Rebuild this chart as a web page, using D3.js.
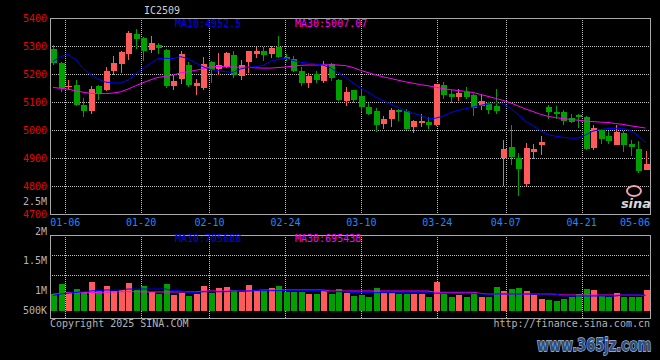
<!DOCTYPE html>
<html><head><meta charset="utf-8">
<script src="https://cdn.jsdelivr.net/npm/d3@7/dist/d3.min.js"></script>
<style>html,body{margin:0;padding:0;background:#000;}svg{display:block;}</style>
</head><body>
<svg id="chart" width="660" height="360"></svg>
<script>
// ---------------- data ----------------
const dates = ["12-31",
 "01-02","01-03","01-06","01-07","01-08","01-09","01-10","01-13","01-14","01-15","01-16","01-17","01-20","01-21","01-22","01-23","01-24","01-27",
 "02-05","02-06","02-07","02-10","02-11","02-12","02-13","02-14","02-17","02-18","02-19","02-20","02-21","02-24","02-25","02-26","02-27","02-28",
 "03-03","03-04","03-05","03-06","03-07","03-10","03-11","03-12","03-13","03-14","03-17","03-18","03-19","03-20","03-21","03-24","03-25","03-26","03-27","03-28","03-31",
 "04-01","04-02","04-03","04-07","04-08","04-09","04-10","04-11","04-14","04-15","04-16","04-17","04-18","04-21","04-22","04-23","04-24","04-25","04-28","04-29","04-30",
 "05-06"];
const opens = [5290,5240,5153,5162,5090,5069,5158,5142,5212,5235,
 5273,5343,5330,5286,5305,5286,5158,5183,5233,5156,
 5150,5243,5219,5224,5269,5192,5242,5271,5283,5271,
 5298,5262,5252,5212,5169,5200,5175,5236,5179,5105,
 5143,5121,5083,5068,5021,5039,5071,5068,5010,5025,
 5027,5019,5162,5130,5119,5137,5126,5087,5096,5085,
 4900,4940,4900,4808,4923,4945,5081,5063,5063,5042,
 5052,5048,4935,5000,4980,4948,4989,4951,4933,4858];
const closes = [5238,5150,5156,5088,5067,5148,5130,5212,5240,5279,
 5348,5326,5283,5310,5293,5158,5176,5271,5162,5169,
 5236,5214,5231,5276,5198,5233,5281,5283,5269,5293,
 5262,5252,5212,5167,5193,5179,5232,5185,5107,5137,
 5107,5081,5057,5018,5039,5071,5064,5004,5031,5033,
 5019,5163,5126,5118,5133,5119,5079,5102,5073,5069,
 4933,4905,4862,4937,4932,4956,5065,5057,5033,5030,
 5046,4933,5007,4969,4960,4992,4948,4939,4855,4880];
const highs = [5305,5244,5180,5180,5114,5158,5160,5226,5265,5283,
 5352,5362,5332,5336,5310,5290,5196,5282,5243,5183,
 5262,5246,5276,5278,5283,5250,5283,5298,5298,5300,
 5336,5270,5264,5224,5202,5212,5246,5238,5181,5152,
 5143,5145,5098,5077,5050,5080,5074,5074,5037,5058,
 5046,5165,5173,5144,5148,5155,5130,5130,5100,5148,
 4965,5019,4918,4954,4951,4980,5090,5085,5073,5058,
 5057,5051,5019,5005,4995,5019,4995,4963,4960,4925];
const lows = [5232,5136,5143,5084,5045,5057,5107,5138,5195,5204,
 5249,5290,5245,5276,5270,5150,5142,5164,5152,5124,
 5143,5167,5198,5222,5186,5180,5204,5257,5248,5257,
 5258,5248,5208,5157,5149,5167,5167,5176,5105,5086,
 5098,5065,5054,4994,5004,5012,5033,5000,4989,5011,
 5004,5013,5111,5096,5104,5111,5051,5073,5056,5057,
 4799,4876,4765,4801,4898,4912,5039,5039,5019,5024,
 5007,4927,4930,4951,4951,4948,4920,4906,4846,4856];
const ma10 = [5245,5262,5270,5252,5220,5198,5182,5171,5168,5168,
 5178,5200,5220,5238,5255,5256,5255,5262,5255,5240,
 5226,5216,5212,5208,5206,5218,5224,5226,5231,5245,
 5252,5257,5248,5242,5239,5236,5232,5222,5205,5188,
 5168,5150,5135,5118,5105,5093,5081,5068,5060,5052,
 5040,5042,5050,5062,5070,5076,5082,5088,5093,5096,
 5093,5078,5055,5032,5015,4998,4983,4978,4974,4971,
 4971,4982,4996,5002,5005,5006,5006,4998,4980,4955];
const ma30 = [5152,5149,5146,5140,5135,5131,5130,5130,5132,5136,
 5146,5158,5169,5179,5188,5191,5196,5204,5208,5213,
 5219,5225,5227,5226,5225,5224,5224,5222,5221,5221,
 5223,5225,5228,5231,5232,5232,5233,5233,5232,5230,
 5223,5213,5205,5197,5190,5184,5178,5172,5167,5162,
 5158,5153,5148,5144,5141,5138,5134,5127,5120,5113,
 5106,5097,5086,5075,5066,5056,5049,5044,5041,5038,
 5035,5032,5030,5028,5027,5023,5020,5015,5011,5007];
const volumesK = [731,946,780,838,780,989,795,903,802,817,
 967,817,903,780,731,946,709,746,688,731,
 903,759,860,881,817,780,924,795,817,860,
 903,780,780,780,731,731,817,731,838,746,
 688,709,660,860,759,759,731,731,731,731,
 673,989,746,673,709,673,746,660,673,881,
 802,838,860,795,709,623,602,580,623,673,
 731,838,817,688,673,746,673,673,660,817];
const volMa10K = [700,731,750,765,780,795,805,817,817,817,
 838,838,838,838,838,838,802,802,759,759,
 780,780,780,780,795,795,795,802,802,802,
 802,802,802,802,802,802,802,780,780,780,
 759,759,759,759,759,759,759,759,759,759,
 759,746,746,746,746,746,746,731,731,731,
 731,731,731,731,731,731,731,731,688,688,
 688,688,688,688,688,688,709,709,709,706];
const volMa30K = [731,740,750,759,759,759,765,770,775,780,
 780,780,776,774,774,774,774,774,774,774,
 795,795,795,795,795,795,795,805,817,817,
 817,817,817,817,817,817,817,795,795,795,
 795,795,795,795,795,795,795,795,795,795,
 795,767,767,767,767,767,767,745,731,731,
 731,731,731,731,731,731,731,725,709,709,
 709,709,709,709,709,709,709,709,709,695];
const priceTicks = [5400,5300,5200,5100,5000,4900,4800,4700];
const dateTicks = ["01-06","01-20","02-10","02-24","03-10","03-24","04-07","04-21","05-06"];
const volTickLabels = ["2M","1.5M","1M","500K"];
const volGridValues = [2000000,1500000,1000000];
const priceMaLabels = ["MA10:4952.5","MA30:5007.07"];
const volMaLabels = ["MA10:705688","MA30:695438"];
const titleText = "IC2509";

// ---------------- layout ----------------
const svg = d3.select("#chart");
const L = 50, R = 650, PT = 18, PB = 214, VT = 235, VB = 318, VBAR = 311;
const RED = "#ff5a5a", GREEN = "#00a000", BLUE = "#0000ff", MAG = "#ff00ff";
const GRID = "#c0c0c0", FRAME = "#a8a8a8", GRAYTXT = "#b4b4b4";
const FONT = "'DejaVu Sans Mono', monospace";

svg.append("rect").attr("width",660).attr("height",360).attr("fill","#000");

const xb = d3.scaleBand().domain(dates).range([L, R]).padding(0);          // candles
const xg = d3.scaleBand().domain(dates.slice(1)).range([L, R]).padding(0); // grid / date labels
const yP = d3.scaleLinear().domain([4700, 5400]).range([PB, PT]);
const yV = d3.scaleLinear().domain([365000, 2000000]).range([VBAR, VT]);    // bars
const yVG = d3.scaleLinear().domain([0, 2000000]).range([315, VT]);          // grid
const BW = 6;

const candles = dates.map((d,i)=>({d, o:opens[i], c:closes[i], h:highs[i], l:lows[i], v:volumesK[i]*1000}));
const colorOf = k => k.c >= k.o ? RED : GREEN;

// grid - price panel
const g = svg.append("g").attr("shape-rendering","crispEdges");
g.selectAll(".hg").data(priceTicks.filter(t=>t<5400 && t>4700)).enter().append("line")
  .attr("x1",L).attr("x2",R).attr("y1",d=>Math.round(yP(d))+0.5).attr("y2",d=>Math.round(yP(d))+0.5)
  .attr("stroke",GRID).attr("stroke-dasharray","1,1");
const gridDates = dateTicks.slice(0,-1);
g.selectAll(".vg").data(gridDates).enter().append("line")
  .attr("x1",d=>Math.round(xg(d))+0.5).attr("x2",d=>Math.round(xg(d))+0.5).attr("y1",PT).attr("y2",PB)
  .attr("stroke",GRID).attr("stroke-dasharray","1,1");
// grid - volume panel
g.selectAll(".vhg").data(volGridValues.slice(1)).enter().append("line")
  .attr("x1",L).attr("x2",R).attr("y1",d=>Math.round(yVG(d))+0.5).attr("y2",d=>Math.round(yVG(d))+0.5)
  .attr("stroke",GRID).attr("stroke-dasharray","1,1");
g.selectAll(".vvg").data(gridDates).enter().append("line")
  .attr("x1",d=>Math.round(xg(d))+0.5).attr("x2",d=>Math.round(xg(d))+0.5).attr("y1",VT).attr("y2",VB)
  .attr("stroke",GRID).attr("stroke-dasharray","1,1");

// candles
const cg = svg.append("g").attr("shape-rendering","crispEdges");
cg.selectAll(".wick").data(candles).enter().append("line")
  .attr("x1",k=>Math.round(xb(k.d)+3)+0.5).attr("x2",k=>Math.round(xb(k.d)+3)+0.5)
  .attr("y1",k=>yP(k.h)).attr("y2",k=>yP(k.l)).attr("stroke",colorOf);
cg.selectAll(".body").data(candles).enter().append("rect")
  .attr("x",k=>Math.round(xb(k.d))+0.5).attr("width",BW)
  .attr("y",k=>yP(Math.max(k.o,k.c)))
  .attr("height",k=>Math.max(1, Math.abs(yP(k.o)-yP(k.c))))
  .attr("fill",colorOf);

// price MA lines
const xc = (d)=>xb(d)+3;
const lineP = arr => d3.line().x((d,i)=>xc(dates[i])).y(d=>yP(d))(arr);
svg.append("path").attr("d",lineP(ma30)).attr("fill","none").attr("stroke",MAG).attr("stroke-width",1);
svg.append("path").attr("d",lineP(ma10)).attr("fill","none").attr("stroke",BLUE).attr("stroke-width",1);

// volume bars
const vg = svg.append("g").attr("shape-rendering","crispEdges");
vg.selectAll(".vb").data(candles).enter().append("rect")
  .attr("x",k=>Math.round(xb(k.d))+0.5).attr("width",BW)
  .attr("y",k=>yV(k.v)).attr("height",k=>VBAR-yV(k.v)).attr("fill",colorOf);
const lineV = arr => d3.line().x((d,i)=>xc(dates[i])).y(d=>yV(d*1000))(arr);
svg.append("path").attr("d",lineV(volMa30K)).attr("fill","none").attr("stroke",MAG).attr("stroke-width",1);
svg.append("path").attr("d",lineV(volMa10K)).attr("fill","none").attr("stroke",BLUE).attr("stroke-width",1);

// frames
const fr = svg.append("g").attr("fill","none").attr("stroke",FRAME).attr("shape-rendering","crispEdges");
fr.append("rect").attr("x",L+0.5).attr("y",PT+0.5).attr("width",R-L).attr("height",PB-PT);
fr.append("rect").attr("x",L+0.5).attr("y",VT+0.5).attr("width",R-L).attr("height",VB-VT);

// axis labels - price
const t = svg.append("g").style("font-family",FONT).style("font-size","10px");
t.selectAll(".pl").data(priceTicks).enter().append("text")
  .attr("x",47).attr("y",d=>yP(d)).attr("text-anchor","end").attr("dominant-baseline","central")
  .attr("fill","#ee0000").text(d=>d);
t.append("text").attr("x",47).attr("y",201).attr("text-anchor","end").attr("dominant-baseline","central")
  .attr("fill",GRAYTXT).text("2.5M");
// date labels
t.selectAll(".dl").data(dateTicks).enter().append("text")
  .attr("x",d=>Math.min(xg(d), R-15)).attr("y",222).attr("text-anchor","middle").attr("dominant-baseline","central")
  .attr("fill","#1e88ff").text(d=>d);
// volume labels
const volLabelY = [231, 260.5, 290.5, 310.5];
t.selectAll(".vl").data(volTickLabels).enter().append("text")
  .attr("x",47).attr("y",(d,i)=>volLabelY[i]).attr("text-anchor","end").attr("dominant-baseline","central")
  .attr("fill",GRAYTXT).text(d=>d);
// MA labels
t.selectAll(".pml").data(priceMaLabels).enter().append("text")
  .attr("x",(d,i)=>[175,295][i]).attr("y",23.5).attr("dominant-baseline","central")
  .attr("fill",(d,i)=>[BLUE,MAG][i]).text(d=>d);
t.selectAll(".vml").data(volMaLabels).enter().append("text")
  .attr("x",(d,i)=>[175,295][i]).attr("y",238.5).attr("dominant-baseline","central")
  .attr("fill",(d,i)=>[BLUE,MAG][i]).text(d=>d);
// title
t.append("text").attr("x",162).attr("y",10.5).attr("text-anchor","middle").attr("dominant-baseline","central")
  .attr("fill","#d0d0d0").text(titleText);
// footer
t.append("text").attr("x",L).attr("y",323.5).attr("dominant-baseline","central").attr("fill",GRAYTXT).text("Copyright 2025 SINA.COM");
t.append("text").attr("x",R).attr("y",323.5).attr("text-anchor","end").attr("dominant-baseline","central").attr("fill",GRAYTXT).text("http://finance.sina.com.cn");

// sina logo watermark
const lg = svg.append("g");
lg.append("ellipse").attr("cx",634).attr("cy",191).attr("rx",7).attr("ry",5).attr("fill","none").attr("stroke","#f0a0b0").attr("stroke-width",2);
lg.append("text").attr("x",636).attr("y",203).attr("text-anchor","middle").attr("dominant-baseline","central")
  .style("font-family","'DejaVu Sans', sans-serif").style("font-size","13px").style("font-weight","bold").style("font-style","italic")
  .attr("fill","#d8d8d8").text("sina");
// site watermark (narrow font size, stretched vertically)
svg.append("text").attr("transform","translate(537,345) scale(1,1.35)").attr("dominant-baseline","central")
  .style("font-family","'DejaVu Sans', sans-serif").style("font-size","13px").style("font-weight","bold")
  .attr("fill","#2b4d80").attr("stroke","#a8c4e8").attr("stroke-width",1).attr("paint-order","stroke")
  .text("www.365jz.com");
</script>
</body></html>
